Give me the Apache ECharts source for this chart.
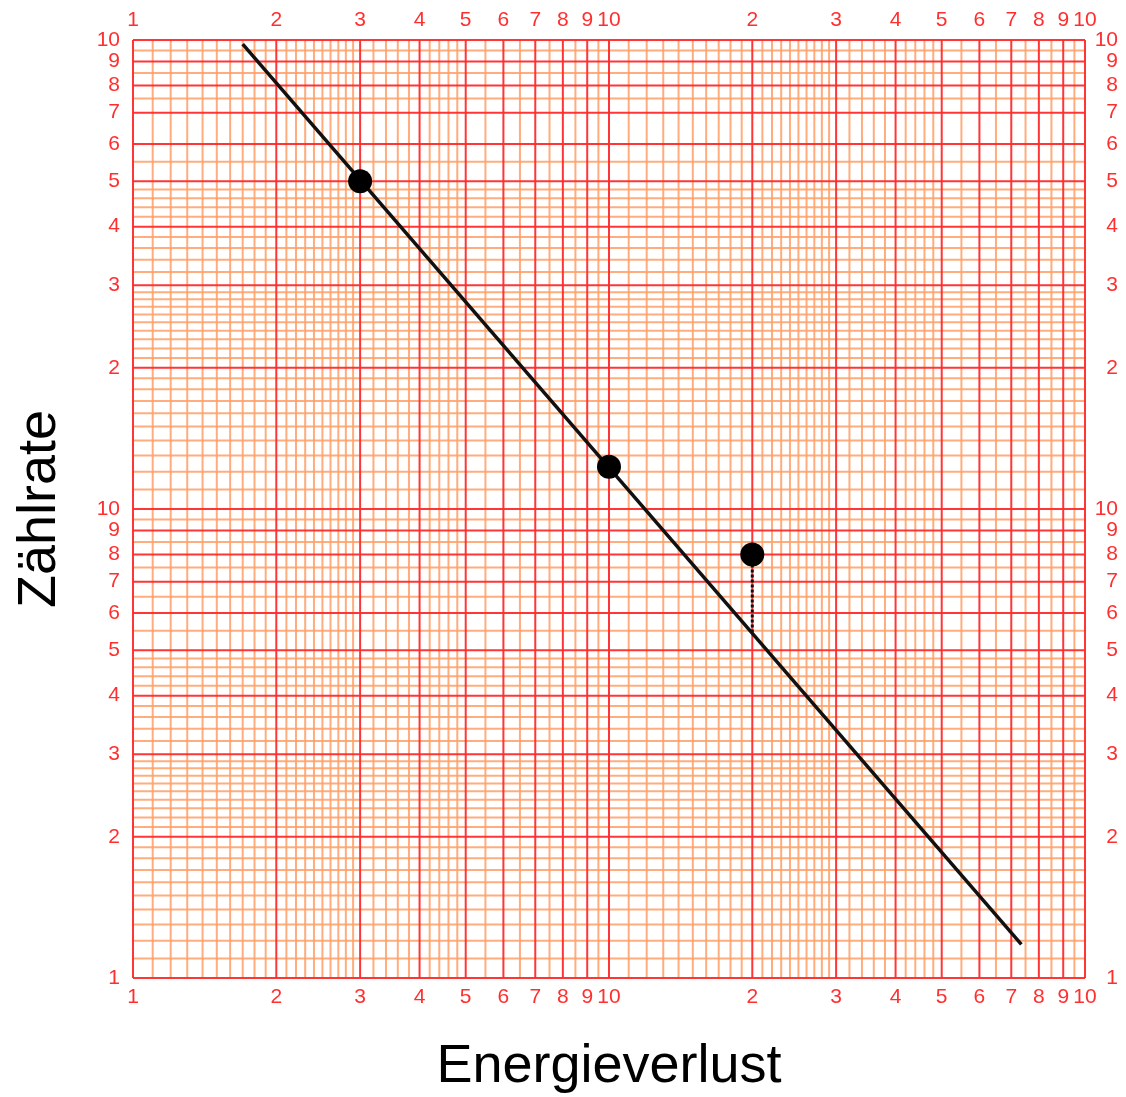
<!DOCTYPE html>
<html>
<head>
<meta charset="utf-8">
<script src="https://cdn.jsdelivr.net/npm/echarts@6/dist/echarts.min.js"></script>
<style>
  html, body { margin: 0; padding: 0; background: #ffffff; }
  #chart { width: 1126px; height: 1097px; }
</style>
</head>
<body>
<div id="chart"></div>
<script>
// Measured points (Energieverlust, Zählrate)
const measured = [[3, 50], [10, 12.3], [20, 8]];
// Fitted power-law line, drawn between its two end points
const fitLine = [[1.7, 98], [73.5, 1.18]];
// Deviation of the third point from the fitted line
const residual = [[20, 8], [20, 5.44]];

// Tick labels on both log axes (two decades, 1 … 100)
const tickValues = [1, 2, 3, 4, 5, 6, 7, 8, 9, 10, 20, 30, 40, 50, 60, 70, 80, 90, 100];
const decades = [1, 10];
// Fine subdivisions of each decade of the log paper
const minorSteps = [1.1, 1.2, 1.3, 1.4, 1.5, 1.6, 1.7, 1.8, 1.9,
                    2.1, 2.2, 2.3, 2.4, 2.5, 2.6, 2.7, 2.8, 2.9,
                    3.2, 3.4, 3.6, 3.8, 4.2, 4.4, 4.6, 4.8,
                    5.5, 6.5, 7.5, 8.5, 9.5];
// The upper Zählrate decade has no line at 65
const minorStepsYUpper = [1.1, 1.2, 1.3, 1.4, 1.5, 1.6, 1.7, 1.8, 1.9,
                          2.1, 2.2, 2.3, 2.4, 2.5, 2.6, 2.7, 2.8, 2.9,
                          3.2, 3.4, 3.6, 3.8, 4.2, 4.4, 4.6, 4.8,
                          5.5, 7.5, 8.5, 9.5];

const RED = '#ff2b2b';
const ORANGE = '#ff9f66';
const LABEL_RED = '#ff2f2f';
const FONT = 'Liberation Sans, Arial, sans-serif';

// stepsPerDecade[i] holds the subdivisions used inside decades[i]
function gridItems(stepsPerDecade, vertical) {
  const items = [];
  decades.forEach(function (d, i) {
    stepsPerDecade[i].forEach(function (s) {
      const v = +(s * d).toFixed(4);
      items.push(vertical ? [v, 1, 0] : [1, v, 0]);
    });
  });
  tickValues.forEach(function (v) {
    items.push(vertical ? [v, 1, 1] : [1, v, 1]);
  });
  return items;
}

function gridRenderer(vertical) {
  return function (params, api) {
    const kind = api.value(2);
    const v = vertical ? api.value(0) : api.value(1);
    const a = vertical ? api.coord([v, 1]) : api.coord([1, v]);
    const b = vertical ? api.coord([v, 100]) : api.coord([100, v]);
    return {
      type: 'line',
      z2: kind ? 2 : 1,
      shape: { x1: a[0], y1: a[1], x2: b[0], y2: b[1] },
      style: {
        stroke: kind ? RED : ORANGE,
        lineWidth: 2,
        opacity: kind ? 0.95 : 0.85
      }
    };
  };
}

function tickFormatter(v) {
  const r = Math.round(v);
  return String(r >= 20 ? r / 10 : r);
}

const labelStyle = {
  color: LABEL_RED,
  fontFamily: FONT,
  fontSize: 21,
  customValues: tickValues,
  formatter: tickFormatter,
  showMinLabel: true,
  showMaxLabel: true
};

function logAxis(extra) {
  return Object.assign({
    type: 'log',
    logBase: 10,
    min: 1,
    max: 100,
    axisLine: { show: false },
    axisTick: { show: false },
    splitLine: { show: false },
    minorTick: { show: false },
    minorSplitLine: { show: false }
  }, extra);
}

const chart = echarts.init(document.getElementById('chart'), null, { renderer: 'canvas' });

chart.setOption({
  animation: false,
  backgroundColor: '#ffffff',
  grid: { left: 133, right: 41, top: 40, bottom: 119, containLabel: false, outerBoundsMode: 'none' },
  xAxis: [
    logAxis({
      position: 'bottom',
      name: 'Energieverlust',
      nameLocation: 'middle',
      nameGap: 62,
      nameTextStyle: { color: '#000', fontSize: 54, fontFamily: FONT },
      axisLabel: Object.assign({ margin: 9 }, labelStyle)
    }),
    logAxis({
      position: 'top',
      axisLabel: Object.assign({ margin: 9 }, labelStyle)
    })
  ],
  yAxis: [
    logAxis({
      position: 'left',
      name: 'Zählrate',
      nameLocation: 'middle',
      nameGap: 66,
      nameTextStyle: { color: '#000', fontSize: 54, fontFamily: FONT },
      axisLabel: Object.assign({ margin: 13 }, labelStyle)
    }),
    logAxis({
      position: 'right',
      axisLabel: Object.assign({ margin: 33, align: 'right' }, labelStyle)
    })
  ],
  series: [
    {
      type: 'custom',
      name: 'vertical grid',
      silent: true,
      z: 1,
      clip: false,
      renderItem: gridRenderer(true),
      data: gridItems([minorSteps, minorSteps], true)
    },
    {
      type: 'custom',
      name: 'horizontal grid',
      silent: true,
      z: 1,
      clip: false,
      renderItem: gridRenderer(false),
      data: gridItems([minorSteps, minorStepsYUpper], false)
    },
    {
      type: 'line',
      name: 'fit',
      data: fitLine,
      symbol: 'none',
      z: 5,
      lineStyle: { color: '#111', width: 3.5 }
    },
    {
      type: 'line',
      name: 'residual',
      data: residual,
      symbol: 'none',
      z: 5,
      lineStyle: { color: '#111', width: 3, type: [3, 2] }
    },
    {
      type: 'scatter',
      name: 'measured',
      data: measured,
      symbol: 'circle',
      symbolSize: 24,
      z: 6,
      itemStyle: { color: '#000', opacity: 1 }
    }
  ]
});
</script>
</body>
</html>
